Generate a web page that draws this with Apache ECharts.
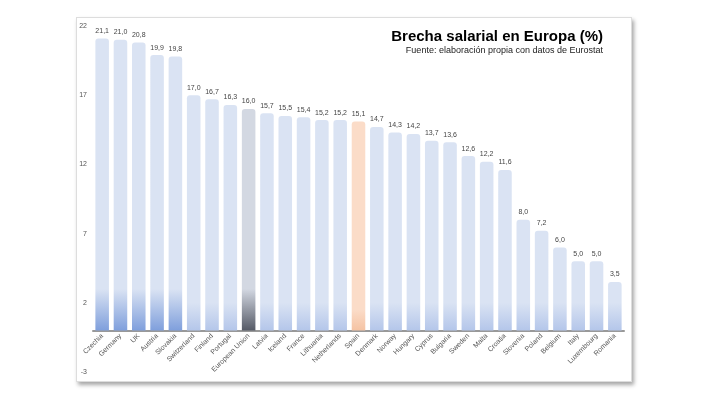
<!DOCTYPE html><html><head><meta charset="utf-8"><script src="https://cdn.jsdelivr.net/npm/echarts@6/dist/echarts.min.js"></script>
<style>body{margin:0;background:#fff}#frame{position:absolute;left:76px;top:17px;width:554px;height:363px;border:1px solid #ddd;box-shadow:2px 3px 4px rgba(0,0,0,0.35);background:#fff}#c{position:absolute;left:0;top:0;width:720px;height:405px}</style></head><body><div id="frame"></div><div id="c"></div><script>
const categories=["Czechia","Germany","UK","Austria","Slovakia","Switzerland","Finland","Portugal","European Union","Latvia","Iceland","France","Lithuania","Netherlands","Spain","Denmark","Norway","Hungary","Cyprus","Bulgaria","Sweden","Malta","Croatia","Slovenia","Poland","Belgium","Italy","Luxembourg","Romania"];
const values=[21.1,21.0,20.8,19.9,19.8,17.0,16.7,16.3,16.0,15.7,15.5,15.4,15.2,15.2,15.1,14.7,14.3,14.2,13.7,13.6,12.6,12.2,11.6,8.0,7.2,6.0,5.0,5.0,3.5];
const yTicks=[-3,2,7,12,17,22];
const chart=echarts.init(document.getElementById('c'));
function grad(top,bot,stop){return new echarts.graphic.LinearGradient(0,0,0,1,[{offset:0,color:top},{offset:stop,color:top},{offset:1,color:bot}]);}
const data=values.map((v,i)=>{
 const c=categories[i];let col;
 if(c==="European Union")col=grad('#d3d8e2','#555a66',1-3/v);
 else if(c==="Spain")col=grad('#fbdcc8','#f5c3a3',0.9);
 else{const k=Math.max(0,1-i/10);col=grad('#dae3f3',k>0.5?'#7f9fdc':'#b4c6ea',1-(k>0.5?3:2)/v);}
 return {value:v,itemStyle:{color:col,borderRadius:[3,3,0,0]}};
});
chart.setOption({
 animation:false,
 title:[{text:'Brecha salarial en Europa (%)',right:112,top:24,
  textStyle:{fontFamily:'Liberation Sans',fontWeight:'bold',fontSize:15,color:'#000'}},
  {text:'Fuente: elaboración propia con datos de Eurostat',right:112,top:41,
  textStyle:{fontFamily:'Liberation Sans',fontWeight:'normal',fontSize:9,color:'#222'}}],
 grid:{left:93,right:96,top:26,bottom:33,outerBoundsMode:'none'},
 xAxis:{type:'category',data:categories,axisLine:{show:true,lineStyle:{color:'#999',width:2}},axisTick:{show:false},
  axisLabel:{rotate:45,interval:0,fontSize:7,color:'#555',fontFamily:'Liberation Sans',margin:-37}},
 yAxis:{type:'value',min:-3,max:22,interval:5,splitLine:{show:false},axisLine:{show:false},axisTick:{show:false},
  axisLabel:{fontSize:7,color:'#555',fontFamily:'Liberation Sans',margin:6,formatter:v=>yTicks.includes(v)?String(v):''}},
 series:[{type:'bar',data:data,barWidth:'74%',label:{show:true,position:'top',fontSize:7,color:'#444',distance:4,fontFamily:'Liberation Sans',formatter:p=>p.value.toFixed(1).replace('.',',')}}]
});
</script></body></html>
